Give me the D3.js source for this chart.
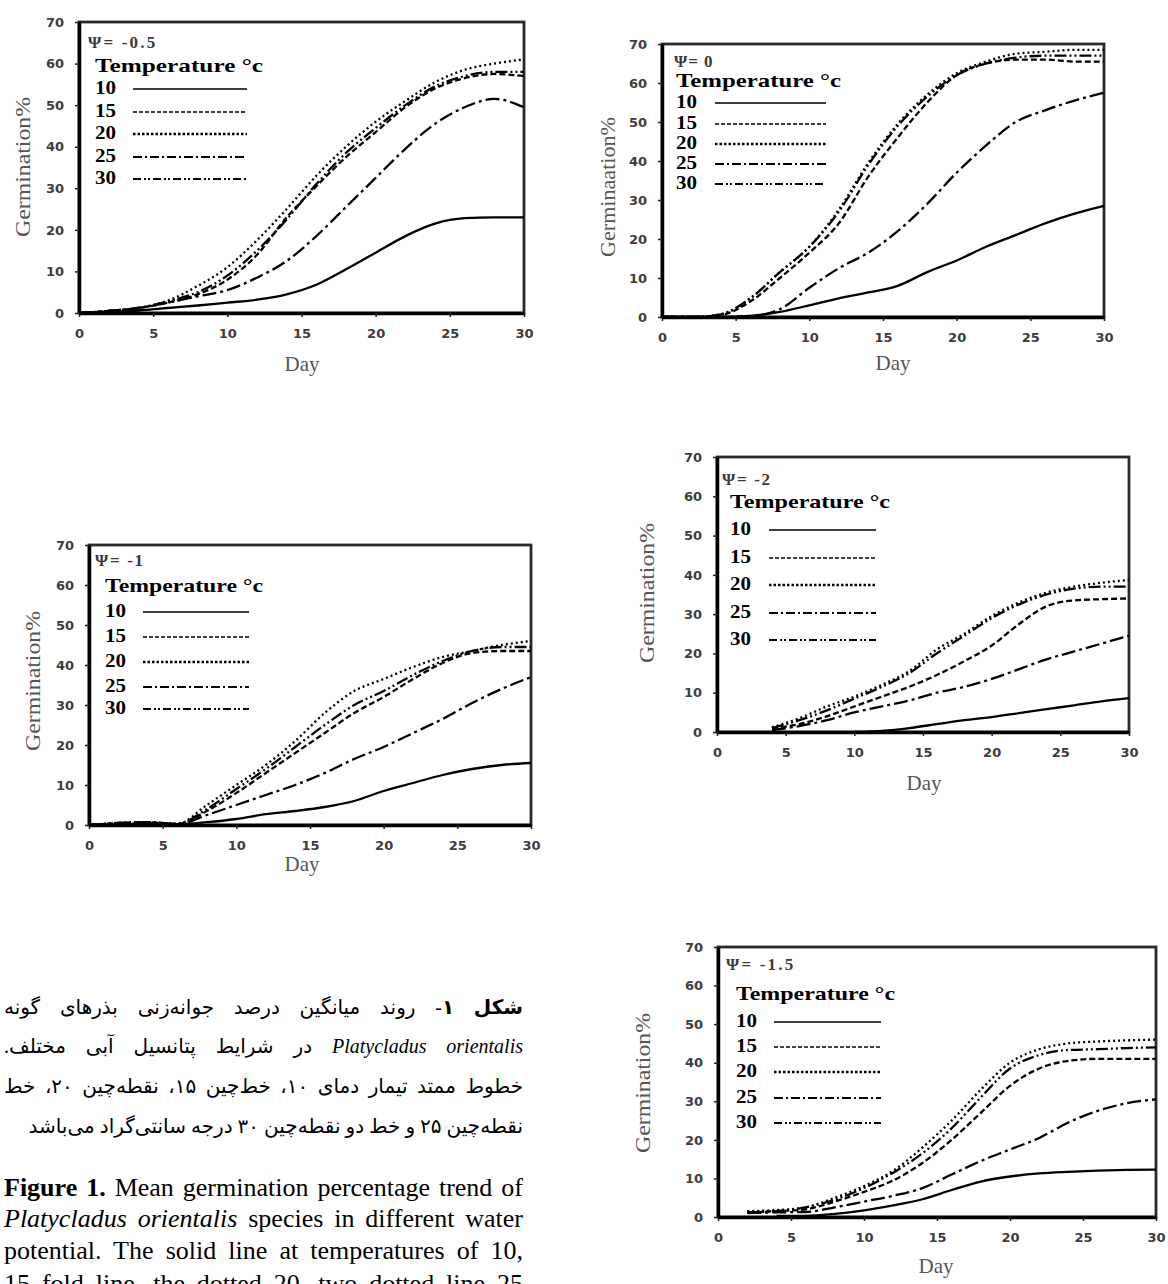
<!DOCTYPE html>
<meta charset="utf-8">
<style>
html, body { margin: 0; padding: 0; background: #fff; }
body { width: 1168px; height: 1284px; overflow: hidden; position: relative; }
svg { position: absolute; left: 0; top: 0; }
.tick text { font-family: "DejaVu Sans", sans-serif; font-weight: bold; font-size: 13px; fill: #3c3c3c; }
.tick line { stroke: #222; stroke-width: 1.5; }
.domain { stroke: #000; stroke-width: 3.5; }
.curve { fill: none; stroke: #000; stroke-width: 2.3; }
.ytitle, .xtitle { font-family: "Liberation Serif", serif; fill: #555; }
.legend text { font-family: "Liberation Serif", serif; font-weight: bold; fill: #000; }
.cap { position: absolute; white-space: nowrap; line-height: 1; color: #000; }
.fa { direction: rtl; font-family: "Liberation Serif", "DejaVu Sans", serif; }
.en { font-family: "Liberation Serif", serif; }
</style>
<body>
<script src="https://cdn.jsdelivr.net/npm/d3@7"></script>
<script>
var days = [0, 2, 4, 6, 8, 10, 12, 14, 16, 18, 20, 22, 24, 26, 28, 30];
var temps = ["10", "15", "20", "25", "30"];
var xTicks = [0, 5, 10, 15, 20, 25, 30];
var yTicks = [0, 10, 20, 30, 40, 50, 60, 70];
var psiLabels = ["\u03A8= -0.5", "\u03A8= 0", "\u03A8= -1", "\u03A8= -2", "\u03A8= -1.5"];
var yTitles = ["Germination%", "Germinaation%", "Germination%", "Germination%", "Germination%"];

// germination % per temperature (10,15,20,25,30) for each water potential
var germPsi05 = [
  [0, 0.3, 0.6, 1.2, 1.8, 2.5, 3.2, 4.5, 6.8, 10.5, 14.5, 18.5, 21.5, 22.8, 23, 23],
  [0, 0.5, 1.2, 2.5, 4.5, 8, 14, 23, 30.5, 37.5, 43.5, 49.5, 54, 56.5, 57.5, 57],
  [0, 0.5, 1.2, 3, 6.5, 11, 17.5, 25, 33, 40, 46, 51, 55.5, 58.5, 60, 61],
  [0, 0.5, 1.2, 2.5, 4, 5.5, 8.5, 12.5, 18.5, 25.5, 32.5, 39.5, 45.5, 49.5, 51.5, 49.5],
  [0, 0.5, 1.2, 2.8, 5, 9, 15, 22.5, 31, 38.5, 44.5, 50, 54.5, 57, 58, 58]
];
var germPsi0 = [
  [0, 0, 0, 0.3, 1.3, 3, 4.8, 6.3, 8, 11.5, 14.5, 18, 21, 24, 26.5, 28.5],
  [0, 0, 0.5, 4, 10, 16.5, 24, 36, 46, 55, 62, 65, 66, 66, 65.5, 65.5],
  [0, 0, 0.7, 4.8, 11.5, 18, 27.5, 39.5, 49.5, 57, 62.5, 65.5, 67.5, 68, 68.5, 68.5],
  [0, 0, 0, 0.2, 2, 7.5, 12.5, 16.5, 22, 29, 37, 44, 50, 53, 55.5, 57.5],
  [0, 0, 0.7, 4.8, 11.5, 18, 27, 39, 49, 56.5, 62, 65, 66.5, 67, 67, 67]
];
var germPsi1 = [
  [0, 0.2, 0.3, 0.2, 0.7, 1.5, 2.7, 3.5, 4.5, 6, 8.5, 10.5, 12.5, 14, 15, 15.5],
  [0, 0.5, 0.7, 0.3, 3.5, 8, 13, 18, 23, 28, 32, 36.5, 40.5, 43, 43.5, 43.5],
  [0, 0.5, 0.7, 0.3, 5, 10, 15, 21, 28, 33.5, 36.5, 39.5, 42, 43.5, 45, 46],
  [0, 0.2, 0.5, 0.2, 2.5, 5, 7.5, 10, 13, 16.5, 19.5, 23, 26.5, 30.5, 34, 37],
  [0, 0.5, 0.7, 0.3, 4, 9, 14, 19.5, 25, 30, 33.5, 37.5, 41, 43.5, 44.5, 44.5]
];
var germPsi2 = [
  [null, null, null, null, null, 0, 0.3, 1, 2, 3, 3.8, 4.8, 5.8, 6.8, 7.8, 8.6],
  [null, null, 1, 2, 4, 6.5, 9, 11.5, 14.5, 18, 22, 27.5, 32, 33.5, 33.8, 34],
  [null, null, 1.2, 3.5, 6.5, 9, 12, 15.5, 21, 25, 29.5, 33, 35.5, 37, 38, 38.7],
  [null, null, 0.5, 1.5, 3, 5, 6.5, 8, 10, 11.5, 13.5, 16, 18.5, 20.5, 22.5, 24.5],
  [null, null, 1, 3, 5.5, 8.5, 11.5, 15, 20, 24.5, 29, 32.5, 35, 36.5, 37, 37]
];
var germPsi15 = [
  [null, null, 0.3, 0.3, 0.8, 1.7, 3, 4.6, 7, 9.2, 10.5, 11.3, 11.7, 12, 12.2, 12.3],
  [null, 1.2, 1.5, 2, 4, 6.5, 9.5, 14, 20, 27, 34, 38.5, 40.5, 41, 41, 41],
  [null, 1.5, 1.8, 2.5, 5, 8, 12, 18, 25, 33, 40, 43.5, 45, 45.5, 45.8, 46],
  [null, 1, 1.2, 1.3, 2.5, 4, 5.5, 7.5, 11, 14.5, 17.5, 20.5, 24.5, 27.5, 29.5, 30.5],
  [null, 1.2, 1.5, 2.5, 4.5, 7.5, 11.5, 16.5, 23, 31, 38.5, 42, 43.3, 43.5, 43.8, 44]
];
var panelData = [germPsi05, germPsi0, germPsi1, germPsi2, germPsi15];

// panel geometry (pixels)
var layout = [
  {l: 79,  r: 524,  t: 22,  b: 313,  psi: [88, 48],   temp: [95, 72, 168],   rows: [94, 117, 139, 162, 184],     lx: [133, 247], yt: [23, 167],   day: [302, 371]},
  {l: 662, r: 1104, t: 44,  b: 317,  psi: [674, 67],  temp: [676, 87, 165],  rows: [108, 129, 149, 169, 189],    lx: [715, 826], yt: [608, 187],  day: [893, 370]},
  {l: 89,  r: 531,  t: 545, b: 825,  psi: [95, 566],  temp: [105, 592, 158], rows: [617, 642, 667, 692, 714],    lx: [143, 249], yt: [33, 681],   day: [302, 871]},
  {l: 717, r: 1129, t: 457, b: 732,  psi: [722, 485], temp: [730, 508, 160], rows: [535, 563, 590, 618, 645],    lx: [769, 876], yt: [647, 593],  day: [924, 790]},
  {l: 718, r: 1156, t: 947, b: 1217, psi: [726, 970], temp: [736, 1000, 159], rows: [1027, 1052, 1077, 1103, 1128], lx: [774, 881], yt: [643, 1083], day: [936, 1273]}
];

var curveDash = ["none", "6,3", "2,3", "14,4,3,4", "12,3,2,3,2,3"];
var legendDash = ["none", "4,2", "2.5,2", "9,3,2,3", "8,3,2,2,2,3"];
var legendWidth = [1.3, 1.6, 2.6, 2, 2];

var svg = d3.select("body").append("svg")
    .attr("width", 1168)
    .attr("height", 1284);

layout.forEach(function(L, i) {
    var x = d3.scaleLinear().domain([0, 30]).range([L.l, L.r]);
    var y = d3.scaleLinear().domain([0, 70]).range([L.b, L.t]);
    var g = svg.append("g");

    g.append("rect")
        .attr("x", L.l).attr("y", L.t)
        .attr("width", L.r - L.l).attr("height", L.b - L.t)
        .attr("fill", "none").attr("stroke", "#2a2a2a").attr("stroke-width", 2.8);

    g.append("g")
        .attr("transform", "translate(0," + L.b + ")")
        .call(d3.axisBottom(x).tickValues(xTicks).tickSize(4).tickSizeOuter(0).tickPadding(12));

    g.append("g")
        .attr("transform", "translate(" + L.l + ",0)")
        .call(d3.axisLeft(y).tickValues(yTicks).tickSize(4).tickSizeOuter(0).tickPadding(11));

    var line = d3.line()
        .defined(function(d) { return d.v != null; })
        .curve(d3.curveMonotoneX)
        .x(function(d) { return x(d.d); })
        .y(function(d) { return y(d.v); });

    panelData[i].forEach(function(vals, k) {
        var pts = days.map(function(d, j) { return {d: d, v: vals[j]}; });
        g.append("path")
            .attr("class", "curve")
            .attr("stroke-dasharray", curveDash[k])
            .attr("d", line(pts));
    });

    // axis titles
    g.append("text")
        .attr("class", "ytitle")
        .attr("transform", "translate(" + L.yt[0] + "," + L.yt[1] + ") rotate(-90)")
        .attr("text-anchor", "middle")
        .attr("dy", "0.35em")
        .attr("font-size", 20)
        .attr("textLength", 140)
        .attr("lengthAdjust", "spacingAndGlyphs")
        .text(yTitles[i]);

    g.append("text")
        .attr("class", "xtitle")
        .attr("x", L.day[0]).attr("y", L.day[1])
        .attr("text-anchor", "middle")
        .attr("font-size", 21)
        .text("Day");

    // legend
    var lg = g.append("g").attr("class", "legend");
    lg.append("text")
        .attr("x", L.psi[0]).attr("y", L.psi[1])
        .attr("font-size", 17)
        .style("fill", "#3a3a3a")
        .attr("textLength", psiLabels[i].length * 9.6)
        .text(psiLabels[i]);
    lg.append("text")
        .attr("x", L.temp[0]).attr("y", L.temp[1])
        .attr("font-size", 19)
        .attr("textLength", L.temp[2])
        .attr("lengthAdjust", "spacingAndGlyphs")
        .text("Temperature \u00B0c");

    temps.forEach(function(t, k) {
        lg.append("text")
            .attr("x", L.temp[0]).attr("y", L.rows[k])
            .attr("font-size", 19)
            .attr("textLength", 21)
            .attr("lengthAdjust", "spacingAndGlyphs")
            .text(t);
        lg.append("line")
            .attr("x1", L.lx[0]).attr("x2", L.lx[1])
            .attr("y1", L.rows[k] - 5).attr("y2", L.rows[k] - 5)
            .attr("stroke", "#000")
            .attr("stroke-width", legendWidth[k])
            .attr("stroke-dasharray", legendDash[k]);
    });
});

// caption (Persian then English), each line stretched to the column width
var faLines = [
  {html: "<b>\u0634\u06A9\u0644 \u06F1</b>- \u0631\u0648\u0646\u062F \u0645\u06CC\u0627\u0646\u06AF\u06CC\u0646 \u062F\u0631\u0635\u062F \u062C\u0648\u0627\u0646\u0647\u200C\u0632\u0646\u06CC \u0628\u0630\u0631\u0647\u0627\u06CC \u06AF\u0648\u0646\u0647", y: 1014, just: true},
  {html: "<i>Platycladus orientalis</i> \u062F\u0631 \u0634\u0631\u0627\u06CC\u0637 \u067E\u062A\u0627\u0646\u0633\u06CC\u0644 \u0622\u0628\u06CC \u0645\u062E\u062A\u0644\u0641.", y: 1053, just: true},
  {html: "\u062E\u0637\u0648\u0637 \u0645\u0645\u062A\u062F \u062A\u06CC\u0645\u0627\u0631 \u062F\u0645\u0627\u06CC \u06F1\u06F0\u060C \u062E\u0637\u200C\u0686\u06CC\u0646 \u06F1\u06F5\u060C \u0646\u0642\u0637\u0647\u200C\u0686\u06CC\u0646 \u06F2\u06F0\u060C \u062E\u0637", y: 1093, just: true},
  {html: "\u0646\u0642\u0637\u0647\u200C\u0686\u06CC\u0646 \u06F2\u06F5 \u0648 \u062E\u0637 \u062F\u0648 \u0646\u0642\u0637\u0647\u200C\u0686\u06CC\u0646 \u06F3\u06F0 \u062F\u0631\u062C\u0647 \u0633\u0627\u0646\u062A\u06CC\u200C\u06AF\u0631\u0627\u062F \u0645\u06CC\u200C\u0628\u0627\u0634\u062F", y: 1133, just: false}
];
var enLines = [
  {html: "<b>Figure 1.</b> Mean germination percentage trend of", y: 1197, just: true},
  {html: "<i>Platycladus orientalis</i> species in different water", y: 1228, just: true},
  {html: "potential. The solid line at temperatures of 10,", y: 1260, just: true},
  {html: "15 fold line, the dotted 20, two dotted line 25", y: 1293, just: true}
];

var colLeft = 4, colWidth = 519;

function placeLines(lines, cls, baseSize) {
    var divs = lines.map(function(ln) {
        return d3.select("body").append("div")
            .attr("class", "cap " + cls)
            .style("font-size", baseSize + "px")
            .html("<span>" + ln.html + "</span>");
    });
    var factor = 1;
    divs.forEach(function(dv) {
        var w = dv.select("span").node().getBoundingClientRect().width;
        factor = Math.min(factor, colWidth * 0.98 / w);
    });
    var fs = baseSize * factor;
    divs.forEach(function(dv, i) {
        var ln = lines[i];
        dv.style("font-size", fs + "px");
        var span = dv.select("span").node();
        var w = span.getBoundingClientRect().width;
        var gaps = (span.textContent.match(/ /g) || []).length;
        if (ln.just && gaps > 0) dv.style("word-spacing", ((colWidth - w) / gaps) + "px");
        var w2 = span.getBoundingClientRect().width;
        dv.style("top", (ln.y - fs * 0.84) + "px");
        if (cls === "fa") dv.style("left", (colLeft + colWidth - w2) + "px");
        else dv.style("left", colLeft + "px");
    });
}

placeLines(faLines, "fa", 20);
placeLines(enLines, "en", 26);
</script>
</body>
